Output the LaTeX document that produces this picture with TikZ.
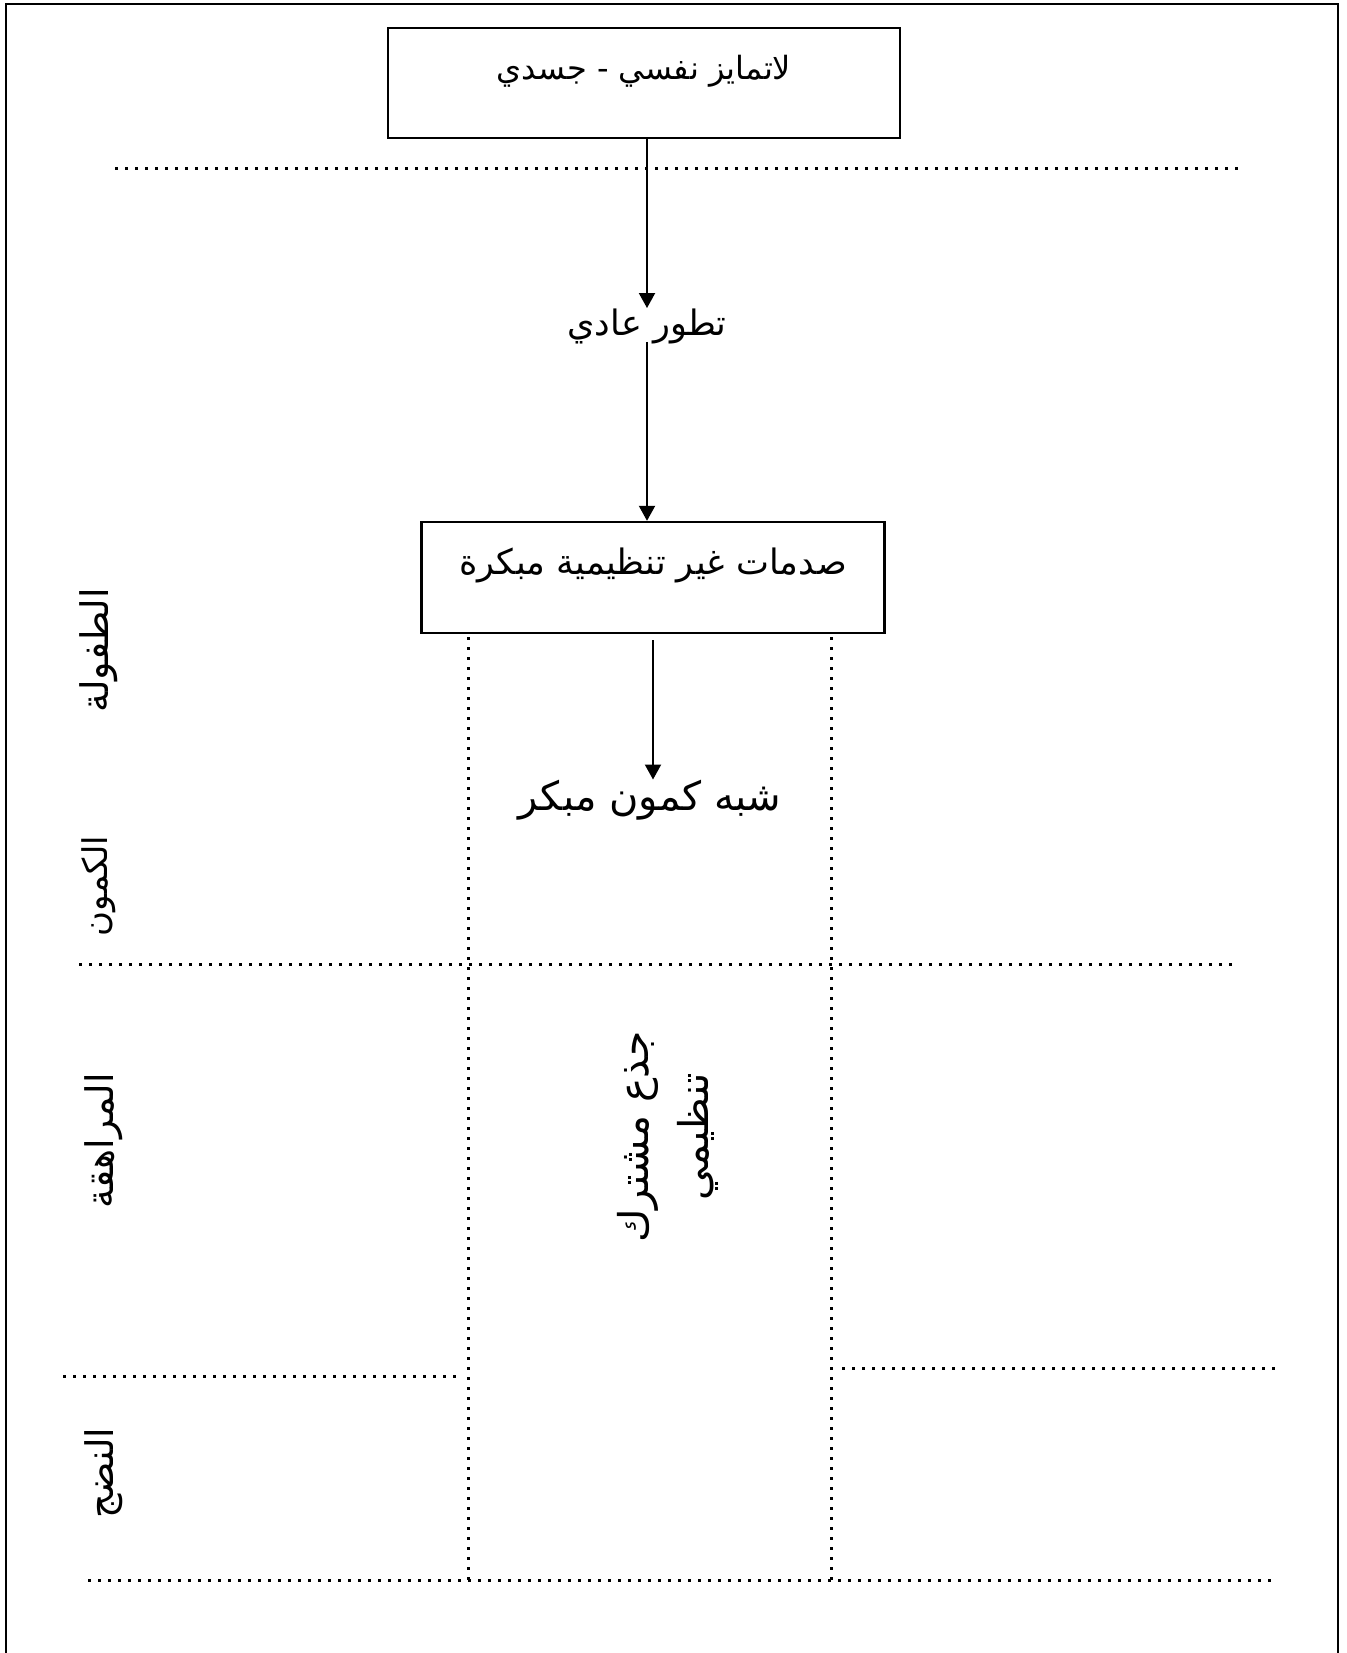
\documentclass[tikz,border=0pt]{standalone}
\usepackage{fontspec}
\usepackage{tikz}
\usetikzlibrary{arrows.meta}
\newfontfamily\arabicfont[Script=Arabic]{DejaVu Sans}
\TeXXeTstate=1
\tikzset{
    stagebox/.style={
        draw,
        rectangle,
        line width=1.2pt,
        inner xsep=0pt,
        inner ysep=0pt,
        font=\arabicfont\fontsize{16}{19}\selectfont
    },
    arr/.style={
        draw,
        -{Triangle[length=7.5pt, width=8pt]},
        line width=1pt
    },
    dotline/.style={
        line width=1.5pt,
        dash pattern=on 1.5pt off 3.5pt
    },
    agetext/.style={
        rotate=90,
        inner sep=0pt,
        font=\arabicfont\fontsize{19}{22}\selectfont
    }
}

\begin{document}
\begin{tikzpicture}[x=0.5pt, y=-0.5pt]
  \useasboundingbox (0,0) rectangle (1347,1653);
  % Outer frame (open at the bottom)
  \draw[line width=1.2pt] (6,1670) -- (6,4) -- (1338,4) -- (1338,1670);

  % Top box
  \node[stagebox, minimum width=256pt, minimum height=55pt, text height=26pt, text depth=29pt] (undiff) at (644,83) {\beginR لاتمايز نفسي - جسدي\endR};

  % Normal development
  \node[inner sep=0pt, font=\arabicfont\fontsize{17.5}{20}\selectfont] (normal) at (647,326) {\beginR تطور عادي\endR};

  % Early disorganising traumas
  \node[stagebox, font=\arabicfont\fontsize{17.5}{20}\selectfont, minimum width=231.5pt, minimum height=55.5pt, text height=26pt, text depth=29.5pt] (trauma) at (653,577.5) {\beginR صدمات غير تنظيمية مبكرة\endR};

  % Early pseudo-latency
  \node[inner sep=0pt, font=\arabicfont\fontsize{20}{24}\selectfont] (latency) at (650,800) {\beginR شبه كمون مبكر\endR};

  % Common trunk (vertical)
  \node[agetext, align=center, font=\arabicfont\fontsize{20.5}{30}\selectfont] (trunk) at (668,1137) {\beginR جذع مشترك\endR\\ \beginR تنظيمي\endR};

  % Age labels on the left
  \node[agetext] (childhood) at (99,650) {\beginR الطفولة\endR};
  \node[agetext, font=\arabicfont\fontsize{17}{20}\selectfont] (latent) at (99,886) {\beginR الكمون\endR};
  \node[agetext] (adolescence) at (104,1141) {\beginR المراهقة\endR};
  \node[agetext] (maturity) at (104,1473) {\beginR النضج\endR};

  % Arrows
  \draw[arr] (undiff.south -| normal.north) -- (normal.north);
  \draw[arr] (normal.south) ++(0,-2) -- (trauma.north -| normal.south);
  \draw[arr] (trauma.south) ++(0,6) coordinate (t3) (t3) -- (t3 |- latency.north);

  % Horizontal dotted lines
  \draw[dotline] (115,169) -- (1240,169);
  \draw[dotline] (79,964) -- (1234,964);
  \draw[dotline] (63,1376) -- (463,1376);
  \draw[dotline] (842,1368) -- (1282,1368);
  \draw[dotline] (88,1580) -- (1273,1580);

  % Vertical dotted lines
  \draw[dotline] (468,637) -- (468,1580);
  \draw[dotline] (831,637) -- (831,1580);
\end{tikzpicture}
\end{document}
